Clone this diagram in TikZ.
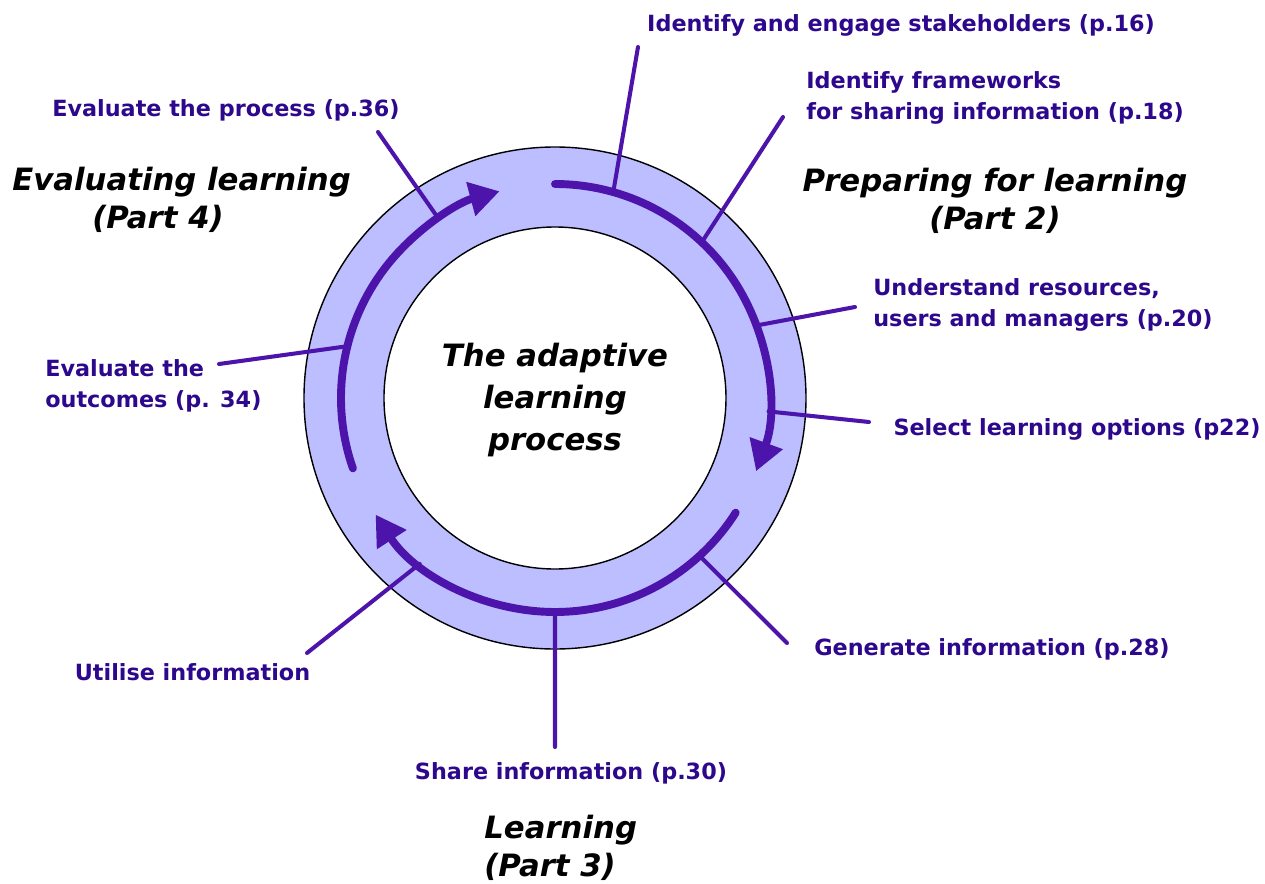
\documentclass[tikz,border=0pt]{standalone}
\usepackage{fontspec}
\newfontfamily\lblfont{DejaVu Sans}
\usetikzlibrary{arrows.meta,calc}
\definecolor{ringblue}{RGB}{188,190,255}
\definecolor{cyclepurple}{RGB}{76,20,170}
\definecolor{notepurple}{RGB}{45,8,140}

\begin{document}
\begin{tikzpicture}[x=0.02cm, y=0.02cm,
    stepnote/.style={text=notepurple, inner sep=0pt, font=\lblfont\bfseries\fontsize{12.7}{18}\selectfont},
    parthead/.style={inner sep=0pt, font=\lblfont\bfseries\itshape\fontsize{17.5}{21.5}\selectfont},
    cyclearc/.style={draw=cyclepurple, line width=4.5pt, line cap=round, -{Triangle[length=17pt,width=19pt]}},
    pointer/.style={draw=cyclepurple, line width=2.3pt, line cap=round}]
    \useasboundingbox (-555,-485) rectangle (710,398);
    \coordinate (c) at (0,0);
    \draw[fill=ringblue, line width=0.8pt, even odd rule] (c) circle[radius=251] (c) circle[radius=171];

    \node[stepnote] (stake) at (346,373) {Identify and engage stakeholders (p.16)};
    \node[stepnote, anchor=west, align=left] (frame) at (251,300) {Identify frameworks\\for sharing information (p.18)};
    \node[stepnote, anchor=west, align=left] (underst) at (318,93) {Understand resources,\\users and managers (p.20)};
    \node[stepnote] (select) at (522,-31) {Select learning options (p22)};
    \node[stepnote] (gen) at (437,-251) {Generate information (p.28)};
    \node[stepnote] (share) at (16,-375) {Share information (p.30)};
    \node[stepnote] (util) at (-362.5,-274) {Utilise information};
    \node[stepnote, anchor=west, align=left] (outc) at (-510,12) {Evaluate the\\outcomes (p. 34)};
    \node[stepnote] (proc) at (-329,288) {Evaluate the process (p.36)};

    \node[parthead, align=center] (preppart) at (440,197) {Preparing for learning\\(Part 2)};
    \node[parthead, anchor=west, align=left] (learnpart) at (-71,-449.5) {Learning\\(Part 3)};
    \node[parthead, anchor=west, align=left] (evalpart) at (-543,198) {Evaluating learning\\\hspace*{1.6cm}(Part 4)};
    \node[parthead, align=center, font=\lblfont\bfseries\itshape\fontsize{17.5}{23.8}\selectfont] (title) at (0,-2) {The adaptive\\learning\\process};

    \coordinate (stake-tail) at (83,351);    \coordinate (stake-tip) at (74.2:214);
    \coordinate (frame-tail) at (228,281);   \coordinate (frame-tip) at (46.7:214);
    \coordinate (underst-tail) at (300,91);  \coordinate (underst-tip) at (19.8:214);
    \coordinate (select-tail) at (314,-24);  \coordinate (select-tip) at (-3.6:214);
    \coordinate (gen-tail) at (232,-245);    \coordinate (gen-tip) at (-47.5:214);
    \coordinate (share-tail) at (0,-349);    \coordinate (share-tip) at (-90:214);
    \coordinate (util-tail) at (-248,-255);  \coordinate (util-tip) at (-129.2:214);
    \coordinate (outc-tail) at (-336,34);    \coordinate (outc-tip) at (166:214);
    \coordinate (proc-tail) at (-177,266);   \coordinate (proc-tip) at (123:214);

    \draw[pointer] (stake-tail) -- (stake-tip) (frame-tail) -- (frame-tip)
        (underst-tail) -- (underst-tip) (select-tail) -- (select-tip)
        (gen-tail) -- (gen-tip) (share-tail) -- (share-tip)
        (util-tail) -- (util-tip) (outc-tail) -- (outc-tip)
        (proc-tail) -- (proc-tip);

    \draw[cyclearc] (90:214) arc[start angle=90, end angle=-20, radius=214];
    \draw[cyclearc] (-32.4:214) arc[start angle=-32.4, end angle=-147, radius=214];
    \draw[cyclearc] (199.2:214) arc[start angle=199.2, end angle=105, radius=214];
\end{tikzpicture}
\end{document}
